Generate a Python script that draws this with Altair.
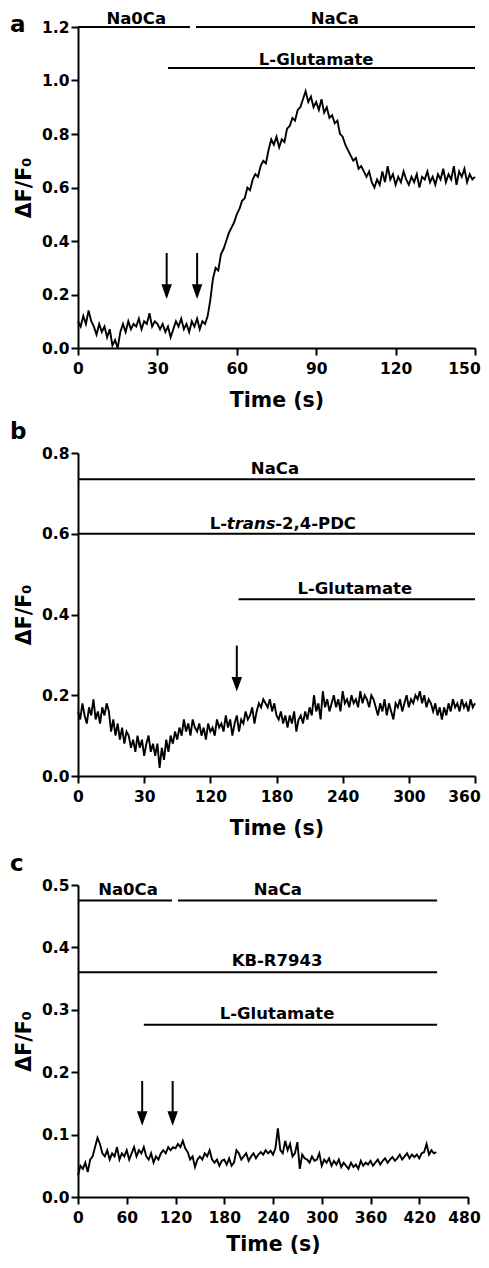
import altair as alt
import pandas as pd

FONT = "DejaVu Sans"

# ---------------- Panel a ----------------
A_DT = 1.0
A_VALUES = [
    0.10, 0.08, 0.12, 0.09, 0.14, 0.10, 0.08, 0.05, 0.09, 0.06, 0.08,
    0.04, 0.07, 0.01, 0.03, 0.00, 0.06, 0.09, 0.06, 0.10, 0.07,
    0.09, 0.08, 0.11, 0.07, 0.10, 0.09, 0.13, 0.08, 0.10, 0.09,
    0.07, 0.09, 0.06, 0.08, 0.04, 0.07, 0.10, 0.08, 0.11, 0.07,
    0.09, 0.06, 0.10, 0.08, 0.11, 0.07, 0.10, 0.09,
    0.12, 0.18, 0.26, 0.30, 0.29, 0.35, 0.37, 0.40, 0.43, 0.45, 0.47,
    0.50, 0.52, 0.55, 0.56, 0.60, 0.59, 0.63, 0.65, 0.64, 0.68,
    0.70, 0.69, 0.74, 0.78, 0.76, 0.79, 0.75, 0.78, 0.77, 0.82,
    0.83, 0.86, 0.85, 0.89, 0.90, 0.93, 0.96, 0.92, 0.94, 0.90,
    0.92, 0.89, 0.93, 0.88, 0.90, 0.86, 0.87, 0.84, 0.85, 0.80,
    0.79, 0.76, 0.74, 0.72, 0.70, 0.71, 0.67, 0.68, 0.66, 0.64,
    0.66, 0.62, 0.60, 0.63, 0.61, 0.66, 0.62, 0.68, 0.63, 0.65,
    0.61, 0.64, 0.62, 0.66, 0.63, 0.61, 0.64, 0.62, 0.65, 0.60,
    0.64, 0.63, 0.66, 0.62, 0.64, 0.61, 0.65, 0.63, 0.67, 0.62,
    0.65, 0.63, 0.68, 0.61, 0.66, 0.64, 0.67, 0.62, 0.65, 0.63, 0.64,
]
A_XTICKS = [0, 30, 60, 90, 120, 150]
A_YTICKS = [0.0, 0.2, 0.4, 0.6, 0.8, 1.0, 1.2]
A_BAR_START = [0, 44.6, 34]
A_BAR_END = [42.3, 150, 150]
A_BAR_Y = [1.2, 1.2, 1.047]
A_LABELS = ["Na0Ca", "NaCa", "L-Glutamate"]
A_LABEL_T = [22, 97, 90]
A_LABEL_Y = [1.2, 1.2, 1.047]
A_ARROW_T = [33.5, 45]
A_ARROW_TOP = 0.355
A_ARROW_TIP = 0.183

# ---------------- Panel b ----------------
B_DT = 2.0
B_VALUES = [
    0.16, 0.14, 0.18, 0.15, 0.13, 0.17, 0.15, 0.19, 0.14, 0.16, 0.13, 0.17, 0.15, 0.18, 0.16,
    0.11, 0.14, 0.10, 0.13, 0.09, 0.12, 0.08, 0.11, 0.10, 0.07,
    0.09, 0.06, 0.10, 0.07, 0.09, 0.05, 0.08, 0.10, 0.06, 0.08,
    0.05, 0.08, 0.02, 0.07, 0.04, 0.09, 0.06, 0.10, 0.08, 0.11,
    0.09, 0.12, 0.10, 0.14, 0.11, 0.13, 0.10, 0.14, 0.12, 0.11,
    0.13, 0.10, 0.12, 0.09, 0.13, 0.11, 0.12, 0.10, 0.14, 0.12,
    0.13, 0.11, 0.15, 0.12, 0.14, 0.10, 0.13, 0.15, 0.11, 0.14,
    0.13, 0.16, 0.14, 0.15, 0.17, 0.13, 0.16, 0.18, 0.17, 0.19,
    0.18, 0.17, 0.19, 0.16, 0.18, 0.15, 0.14, 0.16, 0.13, 0.15,
    0.12, 0.15, 0.13, 0.16, 0.11, 0.14, 0.15, 0.13, 0.16, 0.14,
    0.17, 0.15, 0.20, 0.16, 0.18, 0.14, 0.21, 0.17, 0.19, 0.16,
    0.18, 0.20, 0.17, 0.19, 0.16, 0.21, 0.18, 0.19, 0.17, 0.20,
    0.18, 0.19, 0.17, 0.21, 0.18, 0.20, 0.19, 0.17, 0.20, 0.19,
    0.17, 0.15, 0.18, 0.16, 0.19, 0.15, 0.18, 0.16, 0.14, 0.18,
    0.17, 0.19, 0.16, 0.18, 0.20, 0.17, 0.19, 0.18, 0.20, 0.19,
    0.21, 0.18, 0.20, 0.17, 0.19, 0.18, 0.16, 0.18, 0.15, 0.17,
    0.14, 0.17, 0.15, 0.18, 0.16, 0.19, 0.17, 0.18, 0.16, 0.19,
    0.17, 0.18, 0.16, 0.19, 0.17, 0.18,
]
B_XTICKS = [0, 60, 120, 180, 240, 300, 360]
B_XTICK_LABELS = ["0", "30", "120", "180", "240", "300", "360"]
B_YTICKS = [0.0, 0.2, 0.4, 0.6, 0.8]
B_BAR_START = [0, 0, 145.6]
B_BAR_END = [360, 360, 360]
B_BAR_Y = [0.735, 0.6, 0.438]
B_LABELS = ["NaCa", "L-Glutamate"]
B_LABEL_T = [178.6, 251]
B_LABEL_Y = [0.735, 0.438]
B_PDC_PARTS = ["L-", "trans", "-2,4-PDC"]
B_PDC_T = 157
B_PDC_Y = 0.6
B_ARROW_T = [144]
B_ARROW_TOP = 0.323
B_ARROW_TIP = 0.209

# ---------------- Panel c ----------------
C_DT = 3.0
C_VALUES = [
    0.035, 0.05, 0.045, 0.055, 0.04, 0.06, 0.065, 0.08, 0.095, 0.085,
    0.07, 0.065, 0.075, 0.06, 0.07, 0.065, 0.08, 0.06, 0.07, 0.065,
    0.075, 0.06, 0.07, 0.08, 0.065, 0.075, 0.07, 0.08, 0.065, 0.06,
    0.07, 0.055, 0.065, 0.06, 0.07, 0.075, 0.07, 0.08, 0.075, 0.08,
    0.078, 0.085, 0.08, 0.09, 0.078, 0.072, 0.06, 0.065, 0.048, 0.06,
    0.065, 0.06, 0.07, 0.065, 0.075, 0.06, 0.055, 0.06, 0.05, 0.058,
    0.06, 0.052, 0.062, 0.05, 0.055, 0.075, 0.07, 0.06, 0.065, 0.07,
    0.058, 0.065, 0.07, 0.062, 0.068, 0.072, 0.068, 0.075, 0.07, 0.074,
    0.068, 0.078, 0.11, 0.075, 0.07, 0.09, 0.075, 0.085, 0.065, 0.07,
    0.088, 0.045, 0.068, 0.062, 0.06, 0.055, 0.065, 0.058, 0.06, 0.07,
    0.05, 0.06, 0.055, 0.062, 0.05, 0.058, 0.052, 0.06, 0.048, 0.055,
    0.05, 0.045, 0.055, 0.048, 0.052, 0.045, 0.058, 0.05, 0.055, 0.052,
    0.058, 0.05, 0.055, 0.06, 0.052, 0.058, 0.062, 0.055, 0.06, 0.064,
    0.058, 0.062, 0.068, 0.06, 0.065, 0.07, 0.062, 0.068, 0.064, 0.068,
    0.062, 0.07, 0.072, 0.085, 0.068, 0.075, 0.07, 0.072,
]
C_XTICKS = [0, 60, 120, 180, 240, 300, 360, 420, 480]
C_YTICKS = [0.0, 0.1, 0.2, 0.3, 0.4, 0.5]
C_BAR_START = [0, 123, 0, 81]
C_BAR_END = [115.7, 442, 442, 442]
C_BAR_Y = [0.475, 0.475, 0.36, 0.276]
C_LABELS = ["Na0Ca", "NaCa", "KB-R7943", "L-Glutamate"]
C_LABEL_T = [61.5, 246, 245, 245]
C_LABEL_Y = [0.475, 0.475, 0.36, 0.276]
C_ARROW_T = [79, 116.5]
C_ARROW_TOP = 0.186
C_ARROW_TIP = 0.114

ARROW_HEAD = "M-1,-2.8L1,-2.8L0,0Z"
ANNOT_SIZE = 16.5


def panel(letter, letter_y, values, dt, xdom, xticks, ydom, yticks,
          bar_start, bar_end, bar_y, labels, label_t, label_y,
          arrow_t, arrow_top, arrow_tip, width, height,
          last_shift, title_pad, label_expr=None, label_dy=-4, extra=None):
    xaxis_kw = dict(values=xticks, title="Time (s)", titlePadding=title_pad,
                    labelPadding=6, labelFlush=False, labelOverlap=False,
                    labelOffset={"condition": {"test": f"datum.value == {xticks[-1]}",
                                               "value": last_shift}, "value": 0})
    if label_expr:
        xaxis_kw["labelExpr"] = label_expr
    x = alt.X("t:Q", scale=alt.Scale(domain=xdom, nice=False, zero=False),
              axis=alt.Axis(**xaxis_kw))
    y = alt.Y("v:Q", scale=alt.Scale(domain=ydom, nice=False),
              axis=alt.Axis(values=yticks, format=".1f", title="ΔF/F₀",
                            titlePadding=7, labelPadding=2,
                            labelFlush=False, labelOverlap=False))

    trace = pd.DataFrame({"t": [i * dt for i in range(len(values))], "v": values})
    line = alt.Chart(trace).mark_line(color="black", strokeWidth=1.9).encode(x=x, y=y)

    bars = pd.DataFrame({"t": bar_start, "t2": bar_end, "v": bar_y})
    bar_layer = alt.Chart(bars).mark_rule(color="black", strokeWidth=2).encode(
        x=x, x2="t2:Q", y=y)

    lab = pd.DataFrame({"t": label_t, "v": label_y, "txt": labels})
    lab_layer = alt.Chart(lab).mark_text(
        font=FONT, fontWeight="bold", fontSize=ANNOT_SIZE, baseline="alphabetic",
        dy=label_dy, color="black").encode(x=x, y=y, text="txt:N")

    arr = pd.DataFrame({"t": arrow_t, "v": [arrow_top] * len(arrow_t),
                        "v2": [arrow_tip + 0.01] * len(arrow_t)})
    shaft = alt.Chart(arr).mark_rule(color="black", strokeWidth=2).encode(
        x=x, y=y, y2="v2:Q")
    tips = pd.DataFrame({"t": arrow_t, "v": [arrow_tip] * len(arrow_t)})
    head = alt.Chart(tips).mark_point(
        shape=ARROW_HEAD, size=110, filled=True, color="black", opacity=1,
        strokeWidth=0).encode(x=x, y=y)

    let = alt.Chart(pd.DataFrame({"txt": [letter]})).mark_text(
        font=FONT, fontWeight="bold", fontSize=23, align="left",
        baseline="alphabetic", color="black").encode(
        text="txt:N", x=alt.value(-68), y=alt.value(letter_y))

    layers = [line, bar_layer, lab_layer, shaft, head, let]
    if extra is not None:
        layers += extra(x, y)
    return alt.layer(*layers).properties(width=width, height=height)


def b_label_expr():
    expr = "datum.label"
    for v, s in zip(B_XTICKS, B_XTICK_LABELS):
        expr = f"datum.value == {v} ? '{s}' : ({expr})"
    return expr


def pdc_layers(x, y):
    df = pd.DataFrame({"t": [B_PDC_T], "v": [B_PDC_Y]})
    common = dict(font=FONT, fontWeight="bold", fontSize=ANNOT_SIZE,
                  baseline="alphabetic", dy=-5, color="black")
    half = 24
    left = alt.Chart(df).mark_text(align="right", dx=-half, **common).encode(
        x=x, y=y, text=alt.value(B_PDC_PARTS[0]))
    mid = alt.Chart(df).mark_text(align="center", fontStyle="italic", **common).encode(
        x=x, y=y, text=alt.value(B_PDC_PARTS[1]))
    right = alt.Chart(df).mark_text(align="left", dx=half, **common).encode(
        x=x, y=y, text=alt.value(B_PDC_PARTS[2]))
    return [left, mid, right]


pa = panel("a", 5, A_VALUES, A_DT, [0, 150], A_XTICKS, [0, 1.2], A_YTICKS,
           A_BAR_START, A_BAR_END, A_BAR_Y, A_LABELS, A_LABEL_T, A_LABEL_Y,
           A_ARROW_T, A_ARROW_TOP, A_ARROW_TIP, 397, 321,
           last_shift=-11, title_pad=13.5, label_dy=-3)
pb = panel("b", -14, B_VALUES, B_DT, [0, 360], B_XTICKS, [0, 0.8], B_YTICKS,
           B_BAR_START, B_BAR_END, B_BAR_Y, B_LABELS, B_LABEL_T, B_LABEL_Y,
           B_ARROW_T, B_ARROW_TOP, B_ARROW_TIP, 397, 323,
           last_shift=-11, title_pad=13.5,
           label_expr=b_label_expr(), label_dy=-5, extra=pdc_layers)
pc = panel("c", -14, C_VALUES, C_DT, [0, 480], C_XTICKS, [0, 0.5], C_YTICKS,
           C_BAR_START, C_BAR_END, C_BAR_Y, C_LABELS, C_LABEL_T, C_LABEL_Y,
           C_ARROW_T, C_ARROW_TOP, C_ARROW_TIP, 390, 312,
           last_shift=-4, title_pad=9, label_dy=-6)

top_pair = alt.vconcat(pa, pb, spacing=10)
chart = alt.vconcat(top_pair, pc, spacing=14).properties(
    padding={"left": 2, "top": 3, "right": 0, "bottom": 0}
).configure_view(stroke=None).configure_axis(
    grid=False, domainColor="black", domainWidth=2, tickColor="black",
    tickWidth=2, tickSize=7, labelFont=FONT, labelFontWeight="bold",
    labelFontSize=15.5, labelColor="black",
    titleFont=FONT, titleFontWeight="bold", titleFontSize=20.5, titleColor="black"
)

chart.save("out.html", embed_options={"renderer": "svg", "actions": False})
